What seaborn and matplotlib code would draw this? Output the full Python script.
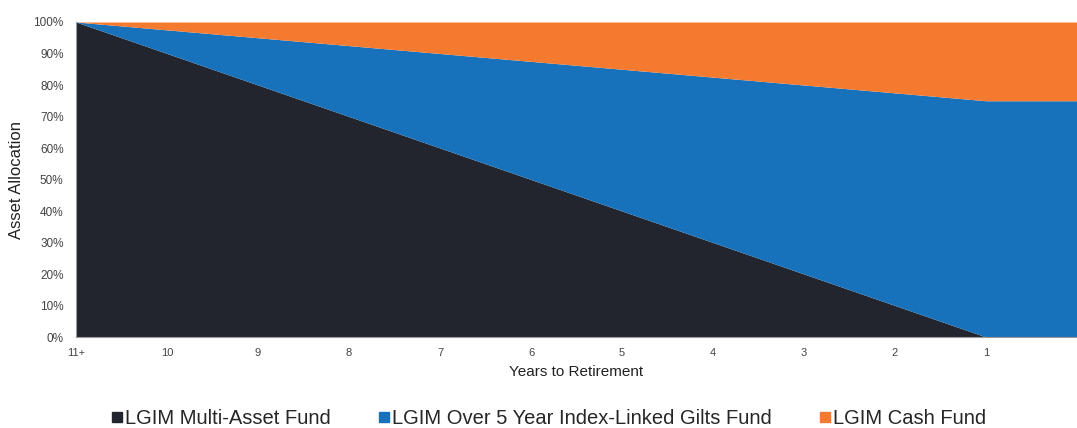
import matplotlib
matplotlib.use("Agg")
import matplotlib.pyplot as plt
from matplotlib.lines import Line2D
import seaborn as sns

# Glide path: years to retirement and allocation per fund (%)
years = [11, 10, 9, 8, 7, 6, 5, 4, 3, 2, 1, 0]
year_labels = ["11+", "10", "9", "8", "7", "6", "5", "4", "3", "2", "1"]
multi_asset = [100, 90, 80, 70, 60, 50, 40, 30, 20, 10, 0, 0]
cash = [0, 2.5, 5, 7.5, 10, 12.5, 15, 17.5, 20, 22.5, 25, 25]
gilts = [100 - m - c for m, c in zip(multi_asset, cash)]

fund_names = ["LGIM Multi-Asset Fund",
              "LGIM Over 5 Year Index-Linked Gilts Fund",
              "LGIM Cash Fund"]
colors = ["#22252e", "#1872bb", "#f47a30"]

sns.set_theme(style="white")
plt.rcParams["font.family"] = ["Liberation Sans", "DejaVu Sans"]

fig = plt.figure(figsize=(10.77, 4.28), dpi=100)
ax = fig.add_axes([0.0706, 0.2126, 0.9294, 0.736])

ax.stackplot(years, multi_asset, gilts, cash, colors=colors, linewidth=0)

ax.set_xlim(11, 0)
ax.set_ylim(0, 100)
ax.set_xticks(years[:-1])
ax.set_xticklabels(year_labels)
ax.set_yticks(range(0, 101, 10))
ax.set_yticklabels([f"{v}%" for v in range(0, 101, 10)])
ax.tick_params(axis="x", labelsize=8, colors="#444444", length=0, pad=8)
ax.tick_params(axis="y", labelsize=8.5, colors="#444444", length=0, pad=9)

for side in ["top", "right"]:
    ax.spines[side].set_visible(False)
for side in ["left", "bottom"]:
    ax.spines[side].set_color("#9a9a9a")
    ax.spines[side].set_linewidth(0.8)

ax.set_xlabel("Years to Retirement", fontsize=11, color="#222222", labelpad=5)
ax.set_ylabel("Asset Allocation", fontsize=12, color="#222222", labelpad=4)
ax.yaxis.set_label_coords(-0.052, 0.5)

handles = [Line2D([], [], marker="s", linestyle="none", markersize=7,
                  markerfacecolor=c, markeredgecolor=c) for c in colors]
fig.legend(handles, fund_names, loc="center", bbox_to_anchor=(0.509, 0.022),
           ncol=3, frameon=False, fontsize=14.5, handletextpad=0.05,
           columnspacing=2.3, handlelength=0.7, borderpad=0)

fig.savefig("out.png", dpi=100)
